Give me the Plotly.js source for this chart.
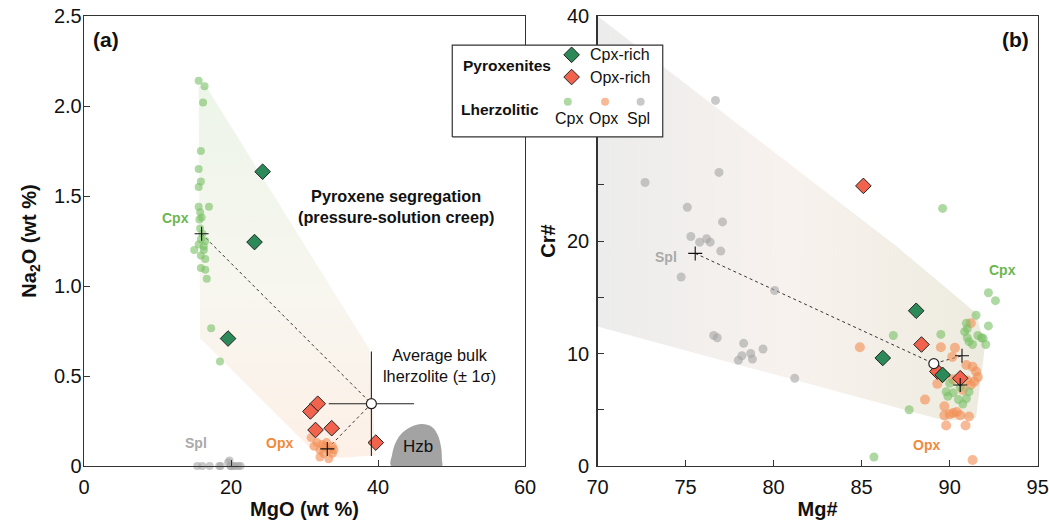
<!DOCTYPE html>
<html><head><meta charset="utf-8">
<script src="https://cdn.plot.ly/plotly-3.0.1.min.js"></script>
<style>html,body{margin:0;padding:0;background:#fff}#chart{width:1049px;height:524px}</style>
</head><body><div id="chart"></div>
<script>
// ---------- Panel (a): MgO (wt %) vs Na2O (wt %) ----------
const aCpxMgO  = [15.6,16.4,16.2,15.9,15.6,15.9,15.6,15.6,17.0,15.8,16.0,15.7,15.8,16.1,15.9,16.5,15.6,16.3,15.0,16.3,15.9,16.5,15.9,16.5,16.7,17.3,18.5];
const aCpxNa2O = [2.14,2.11,2.02,1.75,1.65,1.58,1.55,1.44,1.44,1.41,1.38,1.37,1.32,1.29,1.26,1.25,1.23,1.22,1.20,1.20,1.17,1.15,1.10,1.09,1.04,0.765,0.58];
const aOpxMgO  = [30.9,31.7,32.1,32.8,33.3,33.8,32.1,33.3,33.0,31.3,32.6,33.8,32.4,34.0];
const aOpxNa2O = [0.158,0.13,0.089,0.11,0.09,0.11,0.05,0.04,0.13,0.11,0.07,0.07,0.12,0.09];
const aSplMgO  = [15.4,16.1,17.1,18.4,18.6,19.6,19.9,20.3,20.6,21.0,21.3,20.0,19.8];
const aSplNa2O = [0,0,0,0,0,0.02,0,0,0,0,0,0,0.03];
const aCpxRichMgO  = [24.3,23.2,19.6];
const aCpxRichNa2O = [1.635,1.244,0.708];
const aOpxRichMgO  = [31.8,30.8,31.5,33.7,39.7];
const aOpxRichNa2O = [0.346,0.303,0.20,0.21,0.13];
const aBulk = {mgo: 39.1, na2o: 0.346, sdMgo: 5.8, sdNa2o: 0.29};
const aCpxMean = {mgo: 16.0, na2o: 1.29};
const aOpxMean = {mgo: 33.1, na2o: 0.095};
const aFieldMgO  = [15.6,16.6,38.8,39.7,34.6,31.0,15.8,15.6];
const aFieldNa2O = [2.11,2.11,0.65,0.06,0.045,0.09,0.71,2.11];
const hzbMgO  = [41.8,41.9,42.4,43.3,44.6,46.0,47.3,48.1,48.6,48.7,48.7,41.8];
const hzbNa2O = [0,0.06,0.13,0.185,0.22,0.233,0.218,0.175,0.10,0.03,0,0];
const aXTicks = [0,20,40,60];
const aYTicks = [0,0.5,1.0,1.5,2.0,2.5];
const aYTickText = ['0','0.5','1.0','1.5','2.0','2.5'];

// ---------- Panel (b): Mg# vs Cr# ----------
const bSplMg = [76.7,72.7,76.9,75.1,77.1,75.3,75.8,76.2,76.4,77.0,74.75,80.06,76.6,76.8,78.3,78.2,78.0,78.7,78.8,79.4,81.2];
const bSplCr = [32.5,25.2,26.1,23.0,21.7,20.4,19.9,20.2,19.9,19.1,16.8,15.6,11.6,11.4,10.9,9.8,9.4,10.0,9.5,10.4,7.8];
const bCpxMg = [89.6,85.7,92.2,92.6,91.5,92.2,86.8,89.5,90.85,91.0,91.1,91.3,91.6,91.9,92.05,91.8,90.95,89.8,89.9,90.2,90.5,90.75,90.95,91.1,90.0,87.7,91.0,90.6];
const bCpxCr = [22.9,0.8,15.4,14.7,13.4,12.45,11.6,11.7,11.94,11.4,11.05,10.8,11.6,11.35,10.8,11.4,12.7,6.6,6.2,6.5,5.9,5.5,6.0,6.6,7.35,5.0,12.2,7.0];
const bOpxMg = [84.9,89.5,90.3,91.2,90.15,89.3,88.6,89.7,89.7,90.2,90.6,91.1,89.8,90.9,91.3,90.95,91.3,91.5,91.6,91.4,91.2,91.0,90.2,90.75,90.0,90.4];
const bOpxCr = [10.55,10.55,10.5,12.7,9.7,7.3,5.9,5.3,4.5,4.7,4.5,4.4,3.6,3.6,0.53,8.98,8.83,8.4,7.9,7.5,7.2,7.6,7.7,6.75,4.6,4.8];
const bCpxRichMg = [88.1,86.2,89.6];
const bCpxRichCr = [13.8,9.6,8.1];
const bOpxRichMg = [85.1,88.4,89.3,90.6];
const bOpxRichCr = [24.9,10.8,8.4,7.8];
const bBulk = {mg: 89.1, cr: 9.1};
const bSplMean = {mg: 75.55, cr: 18.9};
const bCpxMean = {mg: 90.7, cr: 9.8};
const bOpxMean = {mg: 90.6, cr: 7.2};
const bFieldMg = [70,87,91.5,92,91.5,89.8,70,70];
const bFieldCr = [40,19.5,13.6,10.6,4.3,4.0,12.4,40];
const bXTicks = [70,75,80,85,90,95];
const bYTicks = [0,10,20,30,40];
const bYMinorTicks = [5,15,25,35];

// ---------- Legend ----------
const legendBoxX = [0,1,1,0,0];
const legendBoxY = [0,0,1,1,0];

const FONT = 'Liberation Sans, Arial, sans-serif';
const C_CPX = 'rgba(120,192,100,0.6)';
const C_OPX = 'rgba(244,140,80,0.6)';
const C_SPL = 'rgba(165,165,165,0.6)';
const C_CPXRICH = '#2b8a58';
const C_OPXRICH = '#f1634c';
const LINE = '#333';

function dots(x, y, color, size, xa, ya, clip) {
  return {x, y, xaxis: xa, yaxis: ya, type: 'scatter', mode: 'markers', cliponaxis: clip !== false,
          marker: {color, size, line: {width: 0}}, hoverinfo: 'skip'};
}
function diamonds(x, y, color, xa, ya) {
  return {x, y, xaxis: xa, yaxis: ya, type: 'scatter', mode: 'markers', cliponaxis: false,
          marker: {symbol: 'diamond', color, size: 12, line: {color: '#222', width: 1}}, hoverinfo: 'skip'};
}
function dashed(x, y, xa, ya) {
  return {x, y, xaxis: xa, yaxis: ya, type: 'scatter', mode: 'lines',
          line: {color: '#333', width: 1, dash: '3px,3px'}, hoverinfo: 'skip'};
}
function crosses(x, y, xa, ya) {
  return {x, y, xaxis: xa, yaxis: ya, type: 'scatter', mode: 'markers',
          marker: {symbol: 'cross-thin', size: 10, line: {color: '#111', width: 1.1}}, hoverinfo: 'skip'};
}

const traces = [
  // Panel a
  {x: aFieldMgO, y: aFieldNa2O, xaxis: 'x', yaxis: 'y', type: 'scatter', mode: 'lines', fill: 'toself',
   line: {width: 0}, fillgradient: {type: 'vertical', colorscale: [[0,'#fdf0e7'],[0.45,'#f7f6ef'],[1,'#edf5e9']]}, hoverinfo: 'skip'},
  {x: hzbMgO, y: hzbNa2O, xaxis: 'x', yaxis: 'y', type: 'scatter', mode: 'lines', fill: 'toself',
   line: {width: 0, shape: 'spline', smoothing: 1}, fillcolor: '#a3a3a3', hoverinfo: 'skip'},
  dashed([aCpxMean.mgo, aBulk.mgo, aOpxMean.mgo], [aCpxMean.na2o, aBulk.na2o, aOpxMean.na2o], 'x', 'y'),
  dots(aSplMgO, aSplNa2O, C_SPL, 8, 'x', 'y', false),
  dots(aCpxMgO, aCpxNa2O, C_CPX, 8, 'x', 'y'),
  dots(aOpxMgO, aOpxNa2O, C_OPX, 9, 'x', 'y'),
  diamonds(aCpxRichMgO, aCpxRichNa2O, C_CPXRICH, 'x', 'y'),
  diamonds(aOpxRichMgO, aOpxRichNa2O, C_OPXRICH, 'x', 'y'),
  {x: [aBulk.mgo], y: [aBulk.na2o], xaxis: 'x', yaxis: 'y', type: 'scatter', mode: 'markers',
   error_x: {type: 'constant', value: aBulk.sdMgo, width: 0, color: '#222', thickness: 1.1},
   error_y: {type: 'constant', value: aBulk.sdNa2o, width: 0, color: '#222', thickness: 1.1},
   marker: {color: '#fff', size: 10, line: {color: '#222', width: 1.2}}, hoverinfo: 'skip'},
  crosses([aCpxMean.mgo, aOpxMean.mgo], [aCpxMean.na2o, aOpxMean.na2o], 'x', 'y'),

  // Panel b
  {x: bFieldMg, y: bFieldCr, xaxis: 'x2', yaxis: 'y2', type: 'scatter', mode: 'lines', fill: 'toself',
   line: {width: 0}, fillgradient: {type: 'horizontal', colorscale: [[0,'#ececec'],[0.5,'#f8f2ee'],[1,'#edebdf']]}, hoverinfo: 'skip'},
  dashed([bSplMean.mg, bBulk.mg, bCpxMean.mg], [bSplMean.cr, bBulk.cr, bCpxMean.cr], 'x2', 'y2'),
  dashed([bBulk.mg, bOpxMean.mg], [bBulk.cr, bOpxMean.cr], 'x2', 'y2'),
  dots(bSplMg, bSplCr, C_SPL, 9, 'x2', 'y2'),
  dots(bOpxMg, bOpxCr, C_OPX, 10, 'x2', 'y2'),
  dots(bCpxMg, bCpxCr, C_CPX, 9, 'x2', 'y2'),
  diamonds(bOpxRichMg.slice(0,3), bOpxRichCr.slice(0,3), C_OPXRICH, 'x2', 'y2'),
  diamonds(bCpxRichMg, bCpxRichCr, C_CPXRICH, 'x2', 'y2'),
  diamonds(bOpxRichMg.slice(3), bOpxRichCr.slice(3), C_OPXRICH, 'x2', 'y2'),
  {x: [bBulk.mg], y: [bBulk.cr], xaxis: 'x2', yaxis: 'y2', type: 'scatter', mode: 'markers',
   marker: {color: '#fff', size: 10, line: {color: '#222', width: 1.2}}, hoverinfo: 'skip'},
  crosses([bSplMean.mg, bCpxMean.mg, bOpxMean.mg], [bSplMean.cr, bCpxMean.cr, bOpxMean.cr], 'x2', 'y2'),

  // Legend box and keys
  {x: legendBoxX, y: legendBoxY, xaxis: 'x3', yaxis: 'y3', type: 'scatter', mode: 'lines', fill: 'toself',
   fillcolor: '#fff', line: {color: LINE, width: 1.2}, hoverinfo: 'skip'},
  {x: [0.567], y: [0.894], xaxis: 'x3', yaxis: 'y3', type: 'scatter', mode: 'markers',
   marker: {symbol: 'diamond', color: C_CPXRICH, size: 12, line: {color: '#222', width: 1}}, hoverinfo: 'skip'},
  {x: [0.567], y: [0.652], xaxis: 'x3', yaxis: 'y3', type: 'scatter', mode: 'markers',
   marker: {symbol: 'diamond', color: C_OPXRICH, size: 12, line: {color: '#222', width: 1}}, hoverinfo: 'skip'},
  {x: [0.549, 0.726, 0.895], y: [0.383, 0.383, 0.383], xaxis: 'x3', yaxis: 'y3', type: 'scatter', mode: 'markers',
   marker: {color: [C_CPX, C_OPX, C_SPL], size: 8}, hoverinfo: 'skip'}
];

function ann(text, x, y, xref, yref, size, color, opts) {
  return Object.assign({text, x, y, xref, yref, showarrow: false,
    font: {family: FONT, size, color: color || '#111'}}, opts || {});
}

const annotations = [
  ann('<b>(a)</b>', 1.0, 2.37, 'x', 'y', 21, '#111', {xanchor: 'left'}),
  ann('<b>Cpx</b>', 12.5, 1.38, 'x', 'y', 14, '#6cb650'),
  ann('<b>Opx</b>', 26.6, 0.13, 'x', 'y', 14, '#f08a3c'),
  ann('<b>Spl</b>', 15.3, 0.13, 'x', 'y', 14, '#a9a9a9'),
  ann('<b>Pyroxene segregation<br>(pressure-solution creep)</b>', 42.4, 1.44, 'x', 'y', 16.3, '#111'),
  ann('Average bulk<br>lherzolite (± 1σ)', 48.4, 0.56, 'x', 'y', 16.3, '#111'),
  ann('Hzb', 45.5, 0.11, 'x', 'y', 17, '#111'),
  ann('<b>(b)</b>', 94.6, 37.9, 'x2', 'y2', 21, '#111', {xanchor: 'right'}),
  ann('<b>Spl</b>', 73.9, 18.6, 'x2', 'y2', 14, '#a9a9a9'),
  ann('<b>Cpx</b>', 93.0, 17.4, 'x2', 'y2', 14, '#6cb650'),
  ann('<b>Opx</b>', 88.7, 1.9, 'x2', 'y2', 14, '#f08a3c'),
  // legend texts
  ann('<b>Pyroxenites</b>', 0.262, 0.777, 'x3', 'y3', 15.5, '#111'),
  ann('<b>Lherzolitic</b>', 0.228, 0.298, 'x3', 'y3', 15.5, '#111'),
  ann('Cpx-rich', 0.643, 0.894, 'x3', 'y3', 16, '#111', {xanchor: 'left'}),
  ann('Opx-rich', 0.643, 0.652, 'x3', 'y3', 16, '#111', {xanchor: 'left'}),
  ann('Cpx', 0.556, 0.20, 'x3', 'y3', 16, '#111'),
  ann('Opx', 0.718, 0.20, 'x3', 'y3', 16, '#111'),
  ann('Spl', 0.887, 0.20, 'x3', 'y3', 16, '#111')
];

const axBase = {showline: true, linecolor: LINE, linewidth: 1.3, mirror: true, ticks: 'inside', ticklen: 6,
  tickcolor: LINE, tickwidth: 1, showgrid: false, zeroline: false, fixedrange: true,
  tickfont: {family: FONT, size: 20, color: '#111'}};
const TITLE_FONT = {family: FONT, size: 20, color: '#111'};

const layout = {
  width: 1049, height: 524, margin: {l: 0, r: 0, t: 0, b: 0},
  paper_bgcolor: '#fff', plot_bgcolor: 'rgba(0,0,0,0)', showlegend: false,
  font: {family: FONT},
  xaxis: Object.assign({}, axBase, {domain: [84/1049, 525/1049], range: [0, 60], tickmode: 'array', tickvals: aXTicks,
    ticklabelstandoff: 3, anchor: 'y',
    title: {text: '<b>MgO (wt %)</b>', font: TITLE_FONT, standoff: 4}}),
  yaxis: Object.assign({}, axBase, {domain: [1-466/524, 1-16/524], range: [0, 2.5], tickmode: 'array', tickvals: aYTicks,
    ticktext: aYTickText, ticklabelstandoff: -3, anchor: 'x',
    title: {text: '<b>Na<sub>2</sub>O (wt %)</b>', font: TITLE_FONT, standoff: 12}}),
  xaxis2: Object.assign({}, axBase, {domain: [597.5/1049, 1037.7/1049], range: [70, 95], tickmode: 'array', tickvals: bXTicks,
    ticklabelstandoff: 3, anchor: 'y2',
    title: {text: '<b>Mg#</b>', font: TITLE_FONT, standoff: 4}}),
  yaxis2: Object.assign({}, axBase, {domain: [1-466/524, 1-16/524], range: [0, 40], tickmode: 'array', tickvals: bYTicks,
    ticklabelstandoff: 3, anchor: 'x2',
    minor: {tickmode: 'array', tickvals: bYMinorTicks, ticks: 'inside', ticklen: 6, tickcolor: LINE, tickwidth: 1, showgrid: false},
    title: {text: '<b>Cr#</b>', font: TITLE_FONT, standoff: 6}}),
  xaxis3: {domain: [451/1049, 664/1049], range: [-0.006, 1.006], visible: false, fixedrange: true, anchor: 'y3'},
  yaxis3: {domain: [1-138/524, 1-44/524], range: [-0.012, 1.012], visible: false, fixedrange: true, anchor: 'x3'},
  annotations
};

Plotly.newPlot('chart', traces, layout, {staticPlot: true, displayModeBar: false});
</script>
</body></html>
